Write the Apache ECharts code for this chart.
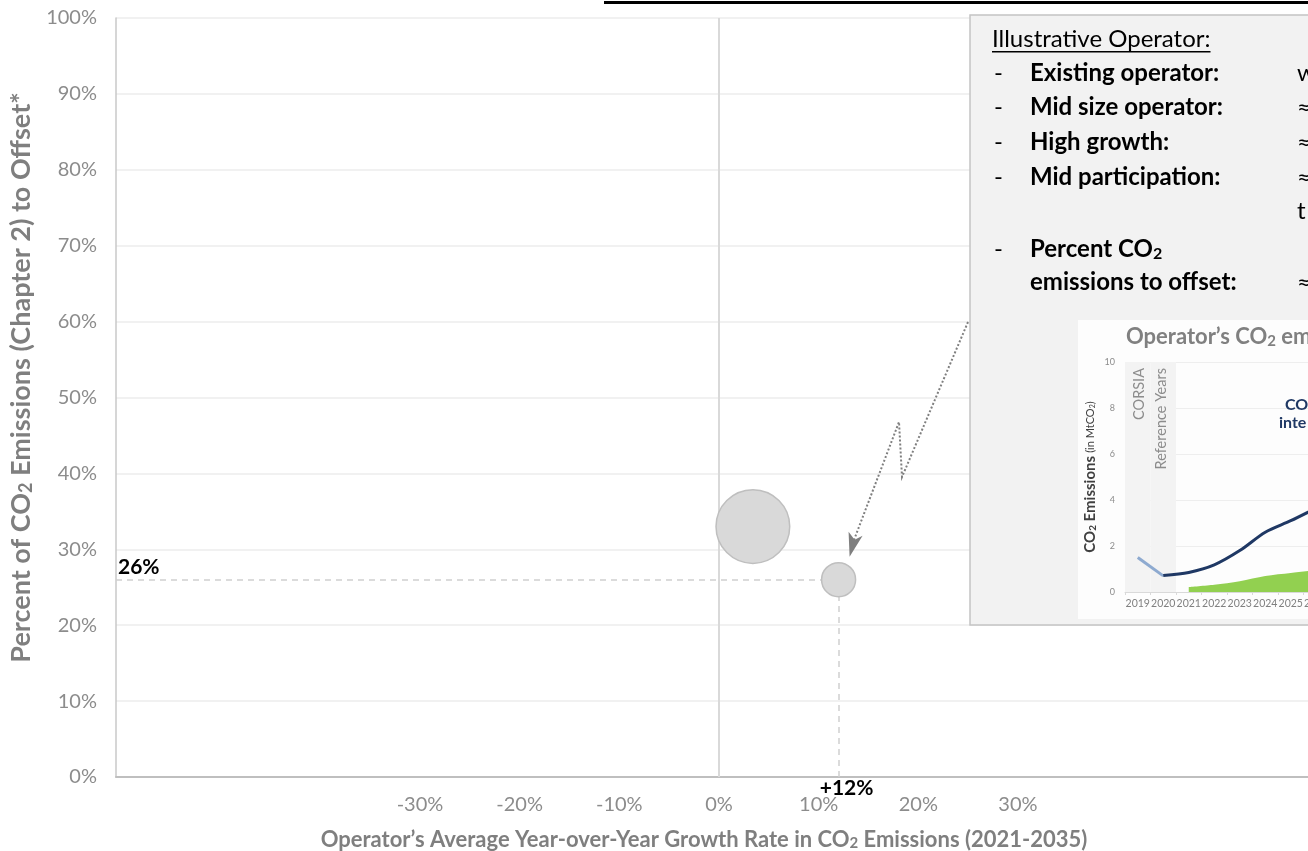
<!DOCTYPE html>
<html>
<head>
<meta charset="utf-8">
<script src="https://cdn.jsdelivr.net/npm/echarts@6/dist/echarts.min.js"></script>
<style>
  html, body { margin: 0; padding: 0; background: #ffffff; }
  #chart { width: 1308px; height: 851px; }
</style>
</head>
<body>
<div id="chart"></div>
<script>
// ---- Bubble chart data: operators ----
const operatorNames = ['Peer operator', 'Illustrative operator'];
const growthRates = [3.4, 12];        // avg. YoY growth in CO2 emissions, %
const offsetShares = [33, 26];        // percent of emissions to offset, %
const relativeSizes = [4.7, 1];       // relative operator size (bubble area)
const highlightIndex = 1;

// Axis tick labels
const xTickValues = [-30, -20, -10, 0, 10, 20, 30];

// ---- Inset: operator's CO2 emissions over time ----
const insetYears = ['2019', '2020', '2021', '2022', '2023', '2024', '2025', '2026'];
const referencePeriod = [10, 10, null, null, null, null, null, null];
const referenceEmissions = [1.5, 0.7, null, null, null, null, null, null];
const projectedEmissions = [null, 0.72, 0.85, 1.18, 1.8, 2.6, 3.1, 3.65];
const offsetRequirement = [null, null, 0.22, 0.32, 0.47, 0.7, 0.83, 0.95];

const FONT = 'Lato, "Noto Sans", sans-serif';
const GREY = '#7f7f7f';
const NAVY = '#1f3864';

const chart = echarts.init(document.getElementById('chart'), null, { renderer: 'canvas' });

const bubbleData = growthRates.map((g, i) => ({
  name: operatorNames[i],
  value: [g, offsetShares[i], relativeSizes[i]]
}));

const hx = growthRates[highlightIndex];
const hy = offsetShares[highlightIndex];

function textWidth(str, font) {
  const c = document.createElement('canvas').getContext('2d');
  c.font = font;
  return c.measureText(str).width;
}

const subRich = (size, color, weight) => ({
  sub: { fontSize: size, fontWeight: weight, color: color, fontFamily: FONT, padding: [Math.round(size * 0.55), 0, 0, 0] }
});

const option = {
  animation: false,
  grid: [
    { left: 116, top: 18, width: 1196, height: 759, outerBoundsMode: 'none', containLabel: false },
    { left: 1125, top: 362, width: 204, height: 230, outerBoundsMode: 'none', containLabel: false }
  ],
  xAxis: [
    {
      gridIndex: 0,
      type: 'value',
      min: -60.5,
      max: 59.5,
      axisLine: { show: true, onZero: false, lineStyle: { color: '#bfbfbf', width: 2 } },
      axisTick: { show: false },
      splitLine: { show: false },
      axisLabel: {
        customValues: xTickValues,
        formatter: v => v + '%',
        margin: 18,
        color: '#8c8c8c',
        fontSize: 20,
        fontFamily: FONT
      },
      name: 'Operator’s Average Year-over-Year Growth Rate in CO{sub|2} Emissions (2021-2035)',
      nameLocation: 'middle',
      nameGap: 51,
      nameTextStyle: {
        color: GREY, fontWeight: 'bold', fontSize: 22, fontFamily: FONT,
        padding: [0, 20, 0, 0],
        rich: subRich(15, GREY, 'bold')
      }
    },
    {
      gridIndex: 1,
      type: 'category',
      data: insetYears,
      boundaryGap: true,
      z: 4,
      axisLine: { lineStyle: { color: '#d9d9d9', width: 1 } },
      axisTick: { show: true, length: 3, lineStyle: { color: '#d9d9d9' } },
      axisLabel: { color: '#808080', fontSize: 10.5, fontFamily: FONT, margin: 6, interval: 0 }
    }
  ],
  yAxis: [
    {
      gridIndex: 0,
      type: 'value',
      min: 0,
      max: 100,
      interval: 10,
      axisLine: { show: true, onZero: false, lineStyle: { color: '#c8c8c8', width: 1.5 } },
      axisTick: { show: false },
      splitLine: { show: true, lineStyle: { color: '#ececec', width: 1.5 } },
      axisLabel: { formatter: v => v + '%', margin: 19, color: '#8c8c8c', fontSize: 20, fontFamily: FONT },
      name: 'Percent of CO{sub|2} Emissions (Chapter 2) to Offset*',
      nameLocation: 'middle',
      nameGap: 80,
      nameTextStyle: {
        color: GREY, fontWeight: 'bold', fontSize: 27, fontFamily: FONT,
        padding: [0, 0, 0, 40],
        rich: subRich(18, GREY, 'bold')
      }
    },
    {
      gridIndex: 1,
      type: 'value',
      min: 0,
      max: 10,
      interval: 2,
      z: 4,
      axisLine: { show: false },
      axisTick: { show: false },
      splitLine: { lineStyle: { color: '#eeeeee', width: 1 } },
      axisLabel: { color: '#8c8c8c', fontSize: 9, fontFamily: FONT, margin: 10 },
      name: '{b|CO}{bs|2}{b| Emissions} {s|(in MtCO}{ss|2}{s|)}',
      nameLocation: 'middle',
      nameGap: 27,
      nameTextStyle: {
        color: '#404040', fontFamily: FONT,
        rich: {
          b: { fontSize: 15, fontWeight: 'bold', color: '#404040', fontFamily: FONT },
          bs: { fontSize: 10, fontWeight: 'bold', color: '#404040', fontFamily: FONT, padding: [6, 0, 0, 0] },
          s: { fontSize: 11, color: '#404040', fontFamily: FONT },
          ss: { fontSize: 7, color: '#404040', fontFamily: FONT, padding: [5, 0, 0, 0] }
        }
      }
    }
  ],
  series: [
    {
      name: 'Operators',
      type: 'scatter',
      xAxisIndex: 0,
      yAxisIndex: 0,
      data: bubbleData,
      symbolSize: d => 34 * Math.sqrt(d[2]),
      itemStyle: { color: '#d9d9d9', borderColor: '#bfbfbf', borderWidth: 1.5, opacity: 1 },
      z: 3,
      markLine: {
        silent: true,
        symbol: 'none',
        z: 2,
        data: [
          [
            { xAxis: 0, yAxis: 0, lineStyle: { type: 'solid', color: '#d9d9d9', width: 2 }, label: { show: false } },
            { xAxis: 0, yAxis: 100 }
          ],
          [
            {
              coord: [-60.5, hy],
              lineStyle: { type: [6, 5], color: '#d0d0d0', width: 1.5 },
              label: {
                show: true, position: 'insideStartTop', distance: [2, 2],
                formatter: hy + '%',
                color: '#000', fontWeight: 'bold', fontSize: 21, fontFamily: FONT
              }
            },
            { coord: [hx, hy] }
          ],
          [
            {
              coord: [hx, 0],
              lineStyle: { type: [6, 5], color: '#d0d0d0', width: 1.5 },
              label: {
                show: true, position: 'start', distance: 1,
                formatter: '+' + hx + '%',
                padding: [0, 0, 0, 16],
                color: '#000', fontWeight: 'bold', fontSize: 21, fontFamily: FONT
              }
            },
            { coord: [hx, hy] }
          ]
        ]
      }
    },
    {
      name: 'CORSIA reference years',
      type: 'bar',
      xAxisIndex: 1,
      yAxisIndex: 1,
      data: referencePeriod,
      barWidth: '100%',
      silent: true,
      itemStyle: { color: '#f3f3f3' },
      z: 5
    },
    {
      name: 'Reference emissions',
      type: 'line',
      xAxisIndex: 1,
      yAxisIndex: 1,
      data: referenceEmissions,
      showSymbol: false,
      lineStyle: { color: '#8eaad0', width: 3 },
      z: 7
    },
    {
      name: 'Offset requirement',
      type: 'line',
      xAxisIndex: 1,
      yAxisIndex: 1,
      data: offsetRequirement,
      showSymbol: false,
      smooth: 0.3,
      lineStyle: { width: 0 },
      areaStyle: { color: '#92d050', opacity: 1 },
      z: 6
    },
    {
      name: 'Projected emissions',
      type: 'line',
      xAxisIndex: 1,
      yAxisIndex: 1,
      data: projectedEmissions,
      showSymbol: false,
      smooth: 0.3,
      lineStyle: { color: NAVY, width: 3 },
      z: 8
    }
  ]
};

chart.setOption(option);

// ---- Annotation panel, inset frame, and callout arrow ----
const headFont = '24px ' + FONT;
const headText = 'Illustrative Operator:';
const headW = textWidth(headText, headFont);
const ROW_BOLD = 'bold 24px ' + FONT;
const ROW_REG = '24px ' + FONT;

const rowText = (text, x, y, font) => ({
  type: 'text', z: 12,
  style: { text: text, x: x, y: y, fill: '#000', font: font, verticalAlign: 'middle' }
});

const rowsY = [73, 107, 142, 177];
const rowLabels = ['Existing operator:', 'Mid size operator:', 'High growth:', 'Mid participation:'];
const rowValues = ['w', '≈', '≈', '≈'];

const panelTexts = [];
rowLabels.forEach((lab, i) => {
  panelTexts.push(rowText('-', 994, rowsY[i], ROW_REG));
  panelTexts.push(rowText(lab, 1030, rowsY[i], ROW_BOLD));
  panelTexts.push(rowText(rowValues[i], 1297, rowsY[i], ROW_REG));
});
panelTexts.push(rowText('t', 1297, 211, ROW_REG));
panelTexts.push(rowText('-', 994, 249, ROW_REG));
panelTexts.push({
  type: 'text', z: 12,
  style: {
    text: 'Percent CO{sub|2}', x: 1030, y: 249, verticalAlign: 'middle',
    fill: '#000', font: ROW_BOLD,
    rich: { sub: { fontSize: 16, fontWeight: 'bold', fill: '#000', fontFamily: FONT, padding: [10, 0, 0, 0] } }
  }
});
panelTexts.push(rowText('emissions to offset:', 1030, 282, ROW_BOLD));
panelTexts.push(rowText('≈', 1297, 282, ROW_REG));

// Arrow from the panel to the highlighted operator
const tip = chart.convertToPixel({ gridIndex: 0 }, [hx, hy]);
const tipX = tip[0] + 11, tipY = tip[1] - 23;

chart.setOption({
  graphic: [
    // title underline along the top edge
    { type: 'rect', z: 12, shape: { x: 604, y: 1, width: 710, height: 3 }, style: { fill: '#000' } },
    // annotation panel
    { type: 'rect', z: 1, shape: { x: 970, y: 15, width: 360, height: 610 }, style: { fill: '#f2f2f2', stroke: '#c4c4c4', lineWidth: 1.5 } },
    { type: 'text', z: 12, style: { text: headText, x: 992, y: 39, verticalAlign: 'middle', font: headFont, fill: '#000' } },
    { type: 'rect', z: 12, shape: { x: 992, y: 51, width: headW, height: 1.5 }, style: { fill: '#000' } },
    ...panelTexts,
    // inset frame
    { type: 'rect', z: 2, shape: { x: 1078, y: 320, width: 250, height: 299 }, style: { fill: '#fdfdfd' } },
    {
      type: 'text', z: 12,
      style: {
        text: 'Operator’s CO{sub|2} emissions', x: 1126, y: 337, verticalAlign: 'middle',
        fill: '#808080', font: 'bold 22px ' + FONT,
        rich: { sub: { fontSize: 15, fontWeight: 'bold', fill: '#808080', fontFamily: FONT, padding: [9, 0, 0, 0] } }
      }
    },
    {
      type: 'text', z: 12, x: 1150, y: 368, rotation: Math.PI / 2,
      style: {
        text: 'CORSIA\nReference Years', align: 'right', verticalAlign: 'middle',
        fill: '#8c8c8c', font: '14.5px ' + FONT, lineHeight: 22
      }
    },
    { type: 'text', z: 12, style: { text: 'CO₂', x: 1285, y: 405, verticalAlign: 'middle', fill: NAVY, font: 'bold 16px ' + FONT } },
    { type: 'text', z: 12, style: { text: 'inte', x: 1279, y: 423, verticalAlign: 'middle', fill: NAVY, font: 'bold 16px ' + FONT } },
    // dotted callout arrow
    {
      type: 'polyline', z: 12,
      shape: { points: [[968, 322], [902, 477], [899, 422], [tipX + 3, tipY - 13]] },
      style: { stroke: '#7f7f7f', lineWidth: 2, lineDash: [2, 2], fill: null }
    },
    {
      type: 'polygon', z: 12,
      shape: { points: [[tipX - 1, tipY - 25], [tipX + 5, tipY - 17], [tipX + 13, tipY - 21], [tipX, tipY]] },
      style: { fill: '#7f7f7f' }
    }
  ]
});
</script>
</body>
</html>
